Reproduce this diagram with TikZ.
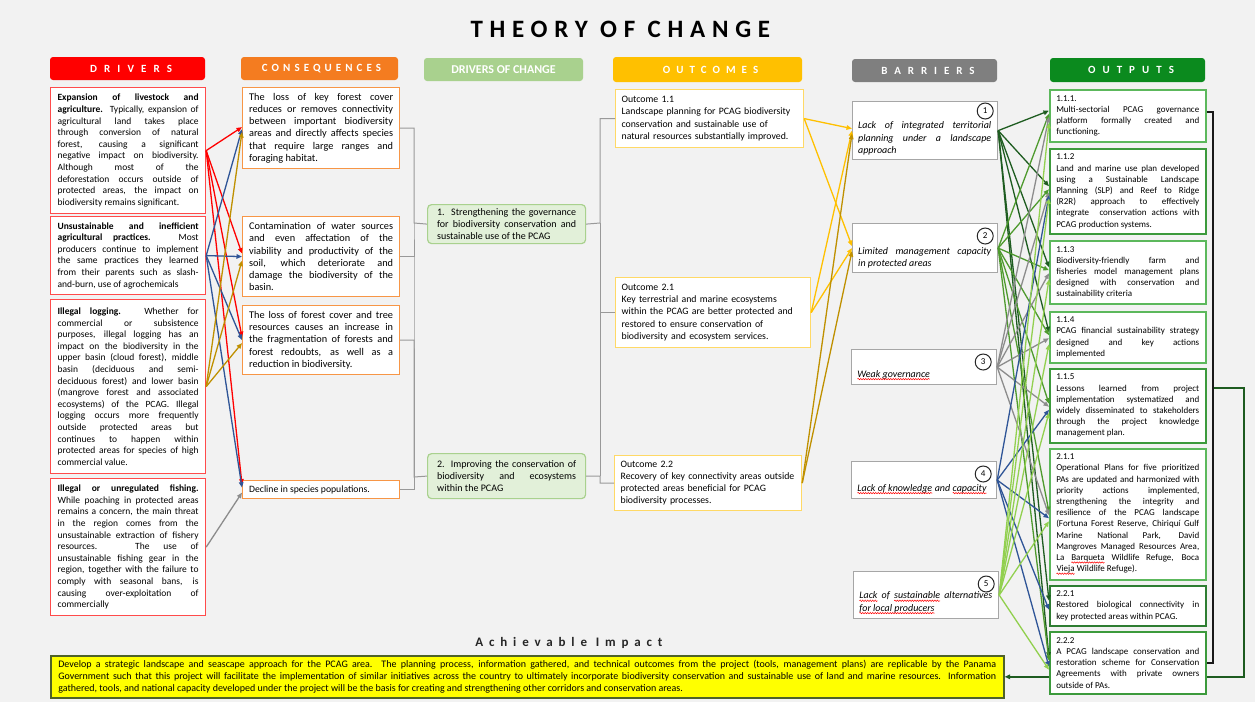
\documentclass[tikz,border=0pt]{standalone}
\usepackage{fontspec}
\setmainfont{Carlito}
\usetikzlibrary{arrows.meta, decorations.pathmorphing}

\hyphenpenalty=10000
\tolerance=10000
\hbadness=10000

%Colours
\definecolor{bgGray}{HTML}{F2F2F2}
\definecolor{drvRed}{HTML}{FF0000}
\definecolor{drvBorder}{HTML}{FF4B4B}
\definecolor{conOrange}{HTML}{F47C20}
\definecolor{conBorder}{HTML}{F79646}
\definecolor{docGreen}{HTML}{A9D18E}
\definecolor{docFill}{HTML}{E2F0D9}
\definecolor{outGold}{HTML}{FFC000}
\definecolor{outBorder}{HTML}{FFD966}
\definecolor{barGray}{HTML}{7F7F7F}
\definecolor{barBorder}{HTML}{A6A6A6}
\definecolor{optGreen}{HTML}{0B8A1E}
\definecolor{optA}{HTML}{5CB85C}
\definecolor{optB}{HTML}{3C9A3C}
\definecolor{optC}{HTML}{2E7D32}
\definecolor{lnBlue}{HTML}{2F5597}
\definecolor{lnGold}{HTML}{BF9000}
\definecolor{lnGray}{HTML}{8C8C8C}
\definecolor{lnDark}{HTML}{1E5C20}
\definecolor{lnMid}{HTML}{4E9A2E}
\definecolor{lnLight}{HTML}{92D050}
\definecolor{impYellow}{HTML}{FFFF00}
\definecolor{impBorder}{HTML}{4F6228}

\newcommand{\spaced}[2]{{\addfontfeatures{LetterSpace=#1}\kern\dimexpr #1\fontdimen6\font/100\relax #2}}
\newcommand{\squig}[1]{\tikz[baseline=(w.base)]{\node[inner sep=0pt, outer sep=0pt, minimum size=0pt] (w) {#1};
  \draw[red, line width=0.5pt, decorate, decoration={snake, amplitude=0.7pt, segment length=2.5pt}]
    ([yshift=-2pt]w.base west) -- ([yshift=-2pt]w.base east);}}

\tikzset{
  hdr/.style={rounded corners=3pt, fill=#1, text=white, inner sep=0pt,
    minimum height=23pt, font=\bfseries\fontsize{11}{13}\selectfont},
  panel/.style={anchor=north west, fill=white, line width=1.2pt, inner ysep=2pt},
  drvbox/.style={panel, draw=drvBorder, text width=141pt, inner xsep=7pt,
    align=justify, font=\fontsize{9.5}{11.6}\selectfont},
  conbox/.style={panel, draw=conBorder, text width=144pt, inner xsep=6.5pt,
    align=justify, font=\fontsize{10.3}{12.2}\selectfont},
  docbox/.style={panel, draw=docGreen, fill=docFill, rounded corners=4pt,
    text width=139pt, inner xsep=9.5pt, inner ysep=1pt, align=justify,
    font=\fontsize{10}{12.3}\selectfont},
  outbox/.style={panel, draw=outBorder, inner xsep=6pt, align=left,
    font=\fontsize{9.8}{12.2}\selectfont},
  barbox/.style={panel, draw=barBorder, minimum width=145pt},
  bartext/.style={anchor=south west, inner sep=0pt, text width=133pt,
    align=justify, font=\itshape\fontsize{10}{12.3}\selectfont},
  num/.style={circle, draw=black!85, line width=1pt, fill=white,
    minimum size=16pt, inner sep=0pt, font=\fontsize{9}{10}\selectfont},
  optbox/.style={panel, draw=#1, line width=1.5pt, text width=143pt,
    inner xsep=6.5pt, align=justify, font=\fontsize{9}{11.2}\selectfont},
  cn/.style={line width=1.3pt, -{Triangle[length=5.5pt,width=4.5pt]}},
  bracketline/.style={draw=black!40, line width=1pt},
}

\begin{document}
\begin{tikzpicture}[x=1pt, y=-1pt]
\useasboundingbox (0,0) rectangle (1255,702);
\fill[bgGray] (0,0) rectangle (1255,702);

%Title
\node[font=\bfseries\fontsize{25}{29}\selectfont] (title) at (617,29) {\spaced{27}{THEORY OF CHANGE}};

%Headers
\node[hdr=drvRed, minimum width=155pt] (hdrv) at (127.5,68.5) {\spaced{65}{DRIVERS}};
\node[hdr=conOrange, minimum width=157pt] (hcon) at (319.5,68.5) {\spaced{37}{CONSEQUENCES}};
\node[hdr=docGreen, minimum width=159pt, font=\bfseries\fontsize{12}{14}\selectfont] (hdoc) at (503.5,69.5) {DRIVERS OF CHANGE};
\node[hdr=outGold, minimum width=189pt, minimum height=25pt] (hout) at (707.5,69.5) {\spaced{55}{OUTCOMES}};
\node[hdr=barGray, minimum width=145pt] (hbar) at (924.5,70.5) {\spaced{63}{BARRIERS}};
\node[hdr=optGreen, minimum width=155pt, minimum height=24pt] (hopt) at (1127.5,70) {\spaced{64}{OUTPUTS}};

%Drivers
\node[drvbox, minimum height=126pt] (d1) at (50,87) {\textbf{Expansion of livestock and\linebreak agriculture.} Typically, expansion of\linebreak agricultural land takes place\linebreak through conversion of natural\linebreak forest, causing a significant\linebreak negative impact on biodiversity.\linebreak Although most of the\linebreak deforestation occurs outside of\linebreak protected areas, the impact on\linebreak biodiversity remains significant.};
\node[drvbox, minimum height=78pt] (d2) at (50,216) {\textbf{Unsustainable and inefficient\linebreak agricultural practices.} Most\linebreak producers continue to implement\linebreak the same practices they learned\linebreak from their parents such as slash-\linebreak and-burn, use of agrochemicals};
\node[drvbox, minimum height=174pt] (d3) at (50,299) {\textbf{Illegal logging.} Whether for\linebreak commercial or subsistence\linebreak purposes, illegal logging has an\linebreak impact on the biodiversity in the\linebreak upper basin (cloud forest), middle\linebreak basin (deciduous and semi-\linebreak deciduous forest) and lower basin\linebreak (mangrove forest and associated\linebreak ecosystems) of the PCAG. Illegal\linebreak logging occurs more frequently\linebreak outside protected areas but\linebreak continues to happen within\linebreak protected areas for species of high\linebreak commercial value.};
\node[drvbox, minimum height=137pt] (d4) at (50,478) {\textbf{Illegal or unregulated fishing.}\linebreak While poaching in protected areas\linebreak remains a concern, the main threat\linebreak in the region comes from the\linebreak unsustainable extraction of fishery\linebreak resources. The use of\linebreak unsustainable fishing gear in the\linebreak region, together with the failure to\linebreak comply with seasonal bans, is\linebreak causing over-exploitation of\linebreak commercially};

%Consequences
\node[conbox, minimum height=81pt] (c1) at (242,87) {The loss of key forest cover\linebreak reduces or removes connectivity\linebreak between important biodiversity\linebreak areas and directly affects species\linebreak that require large ranges and\linebreak foraging habitat.};
\node[conbox, minimum height=80pt] (c2) at (242,216) {Contamination of water sources\linebreak and even affectation of the\linebreak viability and productivity of the\linebreak soil, which deteriorate and\linebreak damage the biodiversity of the\linebreak basin.};
\node[conbox, minimum height=69pt] (c3) at (242,305) {The loss of forest cover and tree\linebreak resources causes an increase in\linebreak the fragmentation of forests and\linebreak forest redoubts, as well as a\linebreak reduction in biodiversity.};
\node[conbox, minimum height=18pt, inner ysep=1pt, font=\fontsize{9.7}{12}\selectfont] (c4) at (242,480) {Decline in species populations.};

%Drivers of change
\node[docbox, minimum height=39pt] (doc1) at (427,204) {1. Strengthening the governance\linebreak for biodiversity conservation and\linebreak sustainable use of the PCAG};
\node[docbox, minimum height=45pt] (doc2) at (427,453) {2. Improving the conservation of\linebreak biodiversity and ecosystems\linebreak within the PCAG};

%Outcomes
\node[outbox, text width=176pt, minimum height=58pt] (o11) at (615,89) {Outcome 1.1\\Landscape planning for PCAG biodiversity\\conservation and sustainable use of\\natural resources substantially improved.};
\node[outbox, text width=183pt, minimum height=70pt] (o21) at (615,277) {Outcome 2.1\\Key terrestrial and marine ecosystems\\within the PCAG are better protected and\\restored to ensure conservation of\\biodiversity and ecosystem services.};
\node[outbox, text width=175pt, minimum height=55pt] (o22) at (614,455) {Outcome 2.2\\Recovery of key connectivity areas outside\\protected areas beneficial for PCAG\\biodiversity processes.};

%Barriers
\node[barbox, minimum height=58pt] (b1) at (852,101) {};
\node[barbox, minimum height=49pt] (b2) at (852,223) {};
\node[barbox, minimum height=35pt] (b3) at (851,349) {};
\node[barbox, minimum height=37pt] (b4) at (851,461) {};
\node[barbox, minimum height=47pt] (b5) at (853,571) {};
\node[bartext] (t1) at ([xshift=6pt,yshift=5pt]b1.south west) {Lack of integrated territorial\linebreak planning under a landscape\linebreak approach};
\node[bartext] (t2) at ([xshift=6pt,yshift=5pt]b2.south west) {Limited management capacity\linebreak in protected areas};
\node[bartext] (t3) at ([xshift=6pt,yshift=5pt]b3.south west) {\squig{Weak governance}};
\node[bartext] (t4) at ([xshift=6pt,yshift=5pt]b4.south west) {\squig{Lack of knowledge} and \squig{capacity}};
\node[bartext] (t5) at ([xshift=6pt,yshift=5pt]b5.south west) {\squig{Lack} of \squig{sustainable} alternatives\linebreak \squig{for local producers}};
\node[num] (n1) at ([xshift=-13pt,yshift=-10pt]b1.north east) {1};
\node[num] (n2) at ([xshift=-13pt,yshift=-13pt]b2.north east) {2};
\node[num] (n3) at ([xshift=-14pt,yshift=-13pt]b3.north east) {3};
\node[num] (n4) at ([xshift=-14pt,yshift=-13pt]b4.north east) {4};
\node[num] (n5) at ([xshift=-13pt,yshift=-13pt]b5.north east) {5};

%Achievable impact
\node[font=\bfseries\fontsize{13}{15}\selectfont, text=black!85] (himp) at (566,643) {\spaced{45}{Achievable Impact}};
\node[panel, draw=impBorder, fill=impYellow, line width=1.6pt, text width=938pt, inner xsep=7.5pt, inner ysep=1pt, minimum height=42pt, align=justify, font=\fontsize{10}{12.3}\selectfont] (impact) at (50,655) {Develop a strategic landscape and seascape approach for the PCAG area. The planning process, information gathered, and technical outcomes from the project (tools, management plans) are replicable by the Panama\linebreak Government such that this project will facilitate the implementation of similar initiatives across the country to ultimately incorporate biodiversity conservation and sustainable use of land and marine resources. Information\linebreak gathered, tools, and national capacity developed under the project will be the basis for creating and strengthening other corridors and conservation areas.};

%Outputs to impact (runs behind the output boxes)
\coordinate (rb) at (1213,388);
\draw[cn, lnDark, line width=1.5pt] (rb) -- ++(31,0) |- (impact.east);

%Outputs
\node[optbox=optA, minimum height=52pt] (p111) at (1049,89) {1.1.1.\\Multi-sectorial PCAG governance\linebreak platform formally created and\linebreak functioning.};
\node[optbox=optB, minimum height=85pt] (p112) at (1049,148) {1.1.2\\Land and marine use plan developed\linebreak using a Sustainable Landscape\linebreak Planning (SLP) and Reef to Ridge\linebreak (R2R) approach to effectively\linebreak integrate\ \ conservation actions with\linebreak PCAG production systems.};
\node[optbox=optA, minimum height=63pt] (p113) at (1049,240) {1.1.3\\Biodiversity-friendly farm and\linebreak fisheries model management plans\linebreak designed with conservation and\linebreak sustainability criteria};
\node[optbox=optA, minimum height=51pt] (p114) at (1049,311) {1.1.4\\PCAG financial sustainability strategy\linebreak designed and key actions\linebreak implemented};
\node[optbox=optB, minimum height=74pt] (p115) at (1049,368) {1.1.5\\Lessons learned from project\linebreak implementation systematized and\linebreak widely disseminated to stakeholders\linebreak through the project knowledge\linebreak management plan.};
\node[optbox=optA, minimum height=131pt] (p211) at (1049,448) {2.1.1\\Operational Plans for five prioritized\linebreak PAs are updated and harmonized with\linebreak priority actions implemented,\linebreak strengthening the integrity and\linebreak resilience of the PCAG landscape\linebreak (Fortuna Forest Reserve, Chiriquí Gulf\linebreak Marine National Park, David\linebreak Mangroves Managed Resources Area,\linebreak La \squig{Barqueta} Wildlife Refuge, Boca\linebreak \squig{Vieja} Wildlife Refuge).};
\node[optbox=optC, minimum height=40pt] (p221) at (1049,585) {2.2.1\\Restored biological connectivity in\linebreak key protected areas within PCAG.};
\node[optbox=optB, minimum height=62pt] (p222) at (1049,631) {2.2.2\\A PCAG landscape conservation and\linebreak restoration scheme for Conservation\linebreak Agreements with private owners\linebreak outside of PAs.};
\draw[black!90, line width=1.5pt] ([yshift=4pt]p111.east) -| (rb) |- (p222.east);

%Brackets
\coordinate (j1) at (414,223);
\coordinate (j2) at (414,477);
\draw[bracketline] (c1.east) -| (j1) -- (doc1.west);
\draw[bracketline] (c2.east) -| (j1) -- (j2);
\draw[bracketline] (c3.east) -| (j2) -- (doc2.west);
\draw[bracketline] (c4.east) -| (j2);
\coordinate (k1) at (600,223);
\coordinate (k2) at (600,476);
\draw[bracketline] (doc1.east) -- (k1) |- (o11.west);
\draw[bracketline] (k1) |- (o21.west);
\draw[bracketline] (doc2.east) -- (k2) |- (o22.west);
\draw[bracketline] (k2) |- (o21.west);

%Drivers to consequences
\draw[cn, drvRed] (d1.east) -- ([yshift=1pt]c1.west);
\draw[cn, drvRed] (d1.east) -- ([yshift=3pt]c2.west);
\draw[cn, drvRed] (d1.east) -- ([yshift=3pt]c3.west);
\draw[cn, drvRed] (d1.east) -- ([yshift=5pt]c4.west);
\draw[cn, lnBlue] (d2.east) -- ([yshift=-1pt]c1.west);
\draw[cn, lnBlue] (d2.east) -- (c2.west);
\draw[cn, lnBlue] (d2.east) -- (c3.west);
\draw[cn, lnBlue] (d2.east) -- ([yshift=2pt]c4.west);
\draw[cn, lnGold] (d3.east) -- ([yshift=-4pt]c1.west);
\draw[cn, lnGold] (d3.east) -- ([yshift=-4pt]c2.west);
\draw[cn, lnGold] (d3.east) -- ([yshift=-3pt]c3.west);
\draw[cn, lnGray] (d4.east) -- ([yshift=-3pt]c4.west);

%Outcomes to barriers
\draw[cn, outGold] (o11.east) -- ([yshift=2pt]b1.west);
\draw[cn, outGold] (o11.east) -- ([yshift=2pt]b2.west);
\draw[cn, outGold] (o21.east) -- (b1.west);
\draw[cn, outGold] (o21.east) -- (b2.west);
\draw[cn, lnGold] (o22.east) -- ([yshift=-3pt]b1.west);
\draw[cn, lnGold] (o22.east) -- ([yshift=-3pt]b2.west);

%Barriers to outputs
\draw[cn, lnDark] (b1.east) -- ([yshift=5pt]p111.west);
\draw[cn, lnDark] (b1.east) -- ([yshift=5pt]p112.west);
\draw[cn, lnDark] (b1.east) -- ([yshift=5pt]p113.west);
\draw[cn, lnDark] (b1.east) -- ([yshift=5pt]p114.west);
\draw[cn, lnDark] (b1.east) -- ([yshift=5pt]p221.west);
\draw[cn, lnDark] (b1.east) -- ([yshift=5pt]p222.west);
\draw[cn, lnMid] (b2.east) -- ([yshift=2pt]p111.west);
\draw[cn, lnMid] (b2.east) -- ([yshift=2pt]p112.west);
\draw[cn, lnMid] (b2.east) -- ([yshift=2pt]p113.west);
\draw[cn, lnMid] (b2.east) -- ([yshift=2pt]p114.west);
\draw[cn, lnMid] (b2.east) -- ([yshift=2pt]p115.west);
\draw[cn, lnMid] (b2.east) -- ([yshift=2pt]p211.west);
\draw[cn, lnMid] (b2.east) -- ([yshift=2pt]p222.west);
\draw[cn, lnGray] (b3.east) -- ([yshift=-1pt]p111.west);
\draw[cn, lnGray] (b3.east) -- ([yshift=-1pt]p112.west);
\draw[cn, lnGray] (b3.east) -- ([yshift=-1pt]p113.west);
\draw[cn, lnGray] (b3.east) -- ([yshift=-1pt]p114.west);
\draw[cn, lnGray] (b3.east) -- ([yshift=-1pt]p115.west);
\draw[cn, lnGray] (b3.east) -- ([yshift=-1pt]p211.west);
\draw[cn, lnBlue] (b4.east) -- ([yshift=-4pt]p112.west);
\draw[cn, lnBlue] (b4.east) -- ([yshift=-4pt]p115.west);
\draw[cn, lnBlue] (b4.east) -- ([yshift=-4pt]p211.west);
\draw[cn, lnBlue] (b4.east) -- ([yshift=-4pt]p221.west);
\draw[cn, lnBlue] (b4.east) -- ([yshift=-4pt]p222.west);
\draw[cn, lnLight] (b5.east) -- ([yshift=-7pt]p111.west);
\draw[cn, lnLight] (b5.east) -- ([yshift=-7pt]p112.west);
\draw[cn, lnLight] (b5.east) -- ([yshift=-7pt]p113.west);
\draw[cn, lnLight] (b5.east) -- ([yshift=-7pt]p114.west);
\draw[cn, lnLight] (b5.east) -- ([yshift=-7pt]p115.west);
\draw[cn, lnLight] (b5.east) -- ([yshift=-7pt]p211.west);
\draw[cn, lnLight] (b5.east) -- ([yshift=-7pt]p222.west);
\end{tikzpicture}
\end{document}
